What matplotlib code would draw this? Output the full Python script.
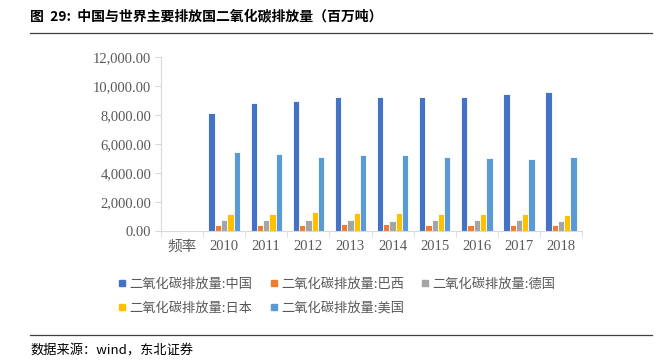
import numpy as np
import matplotlib.pyplot as plt
import matplotlib.ticker as ticker
from matplotlib.lines import Line2D

plt.rcParams['font.family'] = ['Liberation Serif', 'Noto Sans CJK SC', 'DejaVu Sans']
CJK = ['Noto Sans CJK SC', 'DejaVu Sans']

# data (百万吨)
categories = ['频率', '2010', '2011', '2012', '2013', '2014', '2015', '2016', '2017', '2018']
china   = [np.nan, 8110, 8800, 8980, 9210, 9250, 9250, 9240, 9440, 9600]
brazil  = [np.nan, 410, 420, 440, 470, 480, 460, 420, 430, 420]
germany = [np.nan, 780, 745, 760, 790, 740, 750, 760, 750, 720]
japan   = [np.nan, 1190, 1190, 1300, 1260, 1240, 1190, 1190, 1170, 1150]
usa     = [np.nan, 5450, 5310, 5080, 5220, 5220, 5110, 5040, 4970, 5110]

series = [china, brazil, germany, japan, usa]
labels = ['二氧化碳排放量:中国', '二氧化碳排放量:巴西', '二氧化碳排放量:德国',
          '二氧化碳排放量:日本', '二氧化碳排放量:美国']
colors = ['#4472C4', '#ED7D31', '#A5A5A5', '#FFC000', '#5B9BD5']

fig = plt.figure(figsize=(6.57, 3.62), dpi=100)
ax = fig.add_axes([0.245, 0.361, 0.641, 0.482])

x = np.arange(len(categories))
slot = 0.149
for i, (vals, c) in enumerate(zip(series, colors)):
    ax.bar(x + (i - 2) * slot, vals, width=slot, color=c,
           edgecolor='white', linewidth=0.6)

ax.set_xlim(-0.5, len(categories) - 0.5)
ax.set_ylim(0, 12000)
ax.yaxis.set_major_locator(ticker.MultipleLocator(2000))
ax.yaxis.set_major_formatter(ticker.StrMethodFormatter('{x:,.2f}'))

ax.set_xticks(x)
ax.set_xticklabels(categories)
for lab in ax.get_xticklabels():
    if lab.get_text() == '频率':
        lab.set_family(CJK)
        lab.set_fontsize(9.5)
ax.set_xticks(np.arange(-0.5, len(categories)), minor=True)
ax.tick_params(axis='x', which='major', length=0, pad=6, labelsize=10.5, labelcolor='#595959')
ax.tick_params(axis='x', which='minor', length=4, color='#D9D9D9', direction='out')
ax.tick_params(axis='y', length=4, color='#D9D9D9', labelsize=10.5, labelcolor='#595959', pad=3)

for s in ['top', 'right']:
    ax.spines[s].set_visible(False)
for s in ['left', 'bottom']:
    ax.spines[s].set_color('#D9D9D9')
    ax.spines[s].set_linewidth(0.8)

# legend fills column by column; order so rows read 中国 巴西 德国 / 日本 美国
order = [0, 3, 1, 4, 2]
handles = [Line2D([], [], marker='s', linestyle='none', markersize=5,
                  markerfacecolor=colors[k], markeredgecolor=colors[k]) for k in order]
leg = fig.legend(handles, [labels[k] for k in order], ncol=3, loc='upper left',
                 bbox_to_anchor=(0.162, 0.266), frameon=False,
                 prop={'family': CJK, 'size': 9.5}, handlelength=0.6,
                 handletextpad=0.25, columnspacing=1.3, labelspacing=0.85)
for t in leg.get_texts():
    t.set_color('#595959')

# title and footer
fig.text(0.046, 0.953, '图  29:  中国与世界主要排放国二氧化碳排放量（百万吨）',
         family=CJK, fontsize=10, fontweight='bold', va='center', ha='left')
fig.add_artist(Line2D([0.046, 0.992], [0.908, 0.908], color='#404040', linewidth=0.9))
fig.add_artist(Line2D([0.046, 0.992], [0.075, 0.075], color='#404040', linewidth=0.9))
fig.text(0.046, 0.03, '数据来源：wind，东北证券', family=CJK, fontsize=9.5,
         va='center', ha='left')

fig.savefig('out.png', dpi=100)
